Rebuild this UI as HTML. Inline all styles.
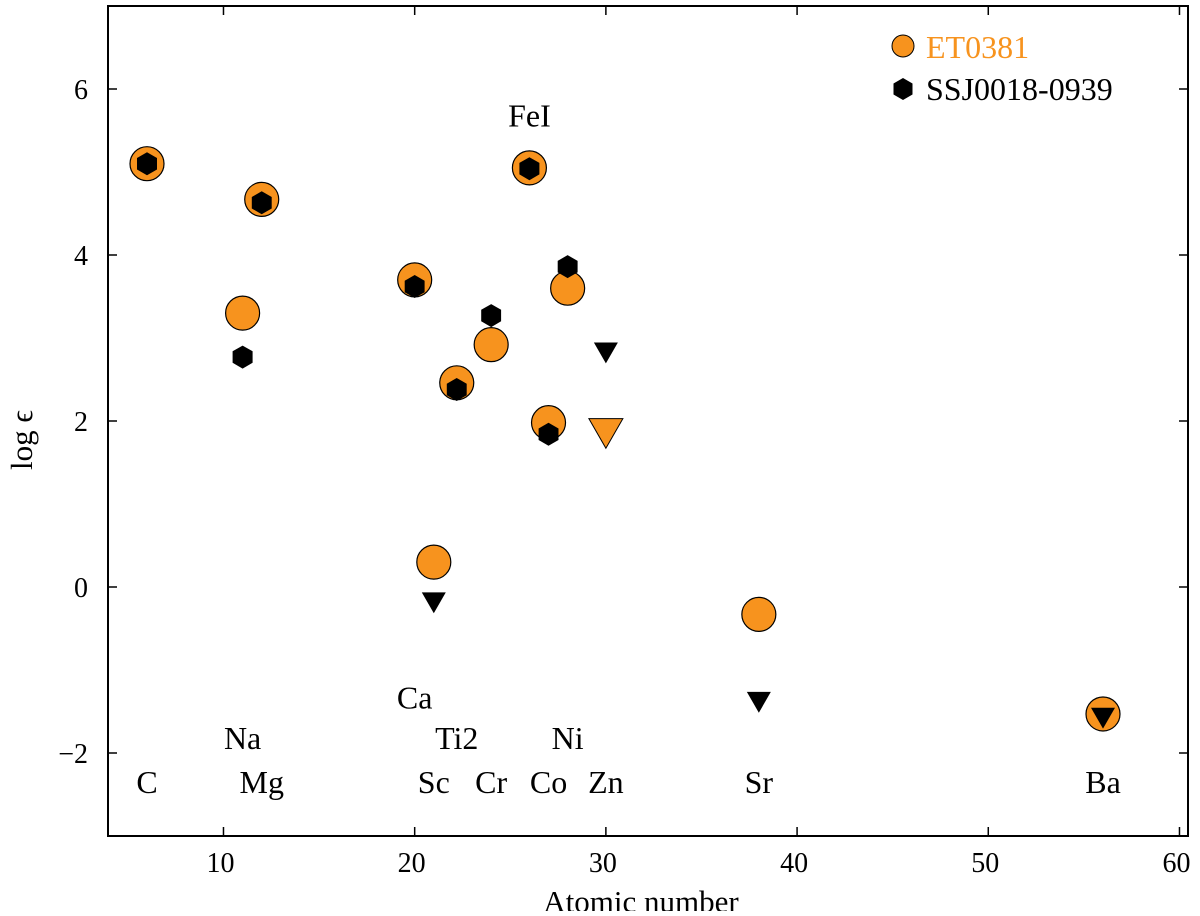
<!DOCTYPE html>
<html><head><meta charset="utf-8"><style>
body{margin:0;background:#fff;width:1200px;height:911px;overflow:hidden}
svg text{font-family:"Liberation Serif",serif;fill:#000}
</style></head><body>
<svg id="chart" width="1200" height="911" xmlns="http://www.w3.org/2000/svg">
<rect x="108" y="6" width="1080" height="830" fill="#fff" stroke="#000" stroke-width="2"/>
<g id="ticks"></g>
<g id="labels"></g>
<g id="marks"></g>
<text x="641" y="912" font-size="31" text-anchor="middle">Atomic number</text>
<text transform="translate(32,440) rotate(-90)" font-size="31" text-anchor="middle">log ϵ</text>
<g>
<circle cx="903" cy="46" r="11" fill="#f7931e" stroke="#000" stroke-width="1"/>
<text x="926" y="58" font-size="32" style="fill:#f7931e">ET0381</text>
<polygon points="903,78 912.5,83.5 912.5,94.5 903,100 893.5,94.5 893.5,83.5" fill="#000"/>
<text x="926" y="100" font-size="32">SSJ0018-0939</text>
</g>
</svg>
<script>
const elements=["C","Na","Mg","Ca","Sc","Ti2","Cr","FeI","Co","Ni","Zn","Sr","Ba"];
const atomicNumbers=[6,11,12,20,21,22.2,24,26,27,28,30,38,56];
const et0381=[5.1,3.3,4.67,3.7,0.3,2.46,2.92,5.05,1.98,3.6,1.85,-0.33,-1.53];
const et0381Limit=[0,0,0,0,0,0,0,0,0,0,1,0,0];
const ssj=[5.1,2.77,4.63,3.62,-0.19,2.38,3.27,5.04,1.84,3.86,2.82,-1.39,-1.58];
const ssjLimit=[0,0,0,0,1,0,0,0,0,0,1,1,1];
const labelY=[-2.35,-1.82,-2.35,-1.33,-2.35,-1.82,-2.35,5.68,-2.35,-1.82,-2.35,-2.35,-2.35];
const xTicks=[10,20,30,40,50,60];
const yTicks=[-2,0,2,4,6];
const yMin=-3,yMax=7;
const X=v=>147+(v-6)*19.12;
const Y=v=>836-(v-yMin)/(yMax-yMin)*830;
const NS="http://www.w3.org/2000/svg";
function mk(tag,attrs,parent){const e=document.createElementNS(NS,tag);for(const k in attrs)e.setAttribute(k,attrs[k]);document.getElementById(parent).appendChild(e);return e;}
xTicks.forEach(t=>{
 const x=X(t);
 const l=mk("path",{d:`M${x},836v-9M${x},6v9`,stroke:"#000","stroke-width":1.5},"ticks");
 
 
 const tx=mk("text",{x:x-3,y:872,"font-size":28,"text-anchor":"middle"},"ticks");tx.textContent=t;
 
 
});
yTicks.forEach(t=>{
 const y=Y(t);
 const l=mk("path",{d:`M108,${y}h9M1188,${y}h-9`,stroke:"#000","stroke-width":1.5},"ticks");
 
 
 const tx=mk("text",{x:88,y:y+10,"font-size":28,"text-anchor":"end"},"ticks");tx.textContent=t<0?"−"+(-t):t;
 
 
});
function hex(cx,cy,r){let p=[];for(let i=0;i<6;i++){const a=Math.PI/3*i-Math.PI/2;p.push((cx+r*Math.cos(a)).toFixed(1)+","+(cy+r*Math.sin(a)).toFixed(1));}return p.join(" ");}
function tri(cx,cy,w){const h=w*0.87;return `${cx-w/2},${cy-h/2} ${cx+w/2},${cy-h/2} ${cx},${cy+h/2}`;}
elements.forEach((el,i)=>{
 const x=X(atomicNumbers[i]);
 const t=mk("text",{x:x,y:Y(labelY[i])+11,"font-size":32,"text-anchor":"middle"},"labels");t.textContent=el;
 
 
 let m;
 if(et0381Limit[i]) m=mk("polygon",{points:tri(x,Y(et0381[i]),34),fill:"#f7931e",stroke:"#000","stroke-width":1},"marks");
 else m=mk("circle",{cx:x,cy:Y(et0381[i]),r:17,fill:"#f7931e",stroke:"#000","stroke-width":1.2},"marks");
 
 
});
elements.forEach((el,i)=>{
 const x=X(atomicNumbers[i]);
 let m;
 if(ssjLimit[i]) m=mk("polygon",{points:tri(x,Y(ssj[i]),24),fill:"#000"},"marks");
 else m=mk("polygon",{points:hex(x,Y(ssj[i]),11.5),fill:"#000"},"marks");
 
 
});
</script>
</body></html>
